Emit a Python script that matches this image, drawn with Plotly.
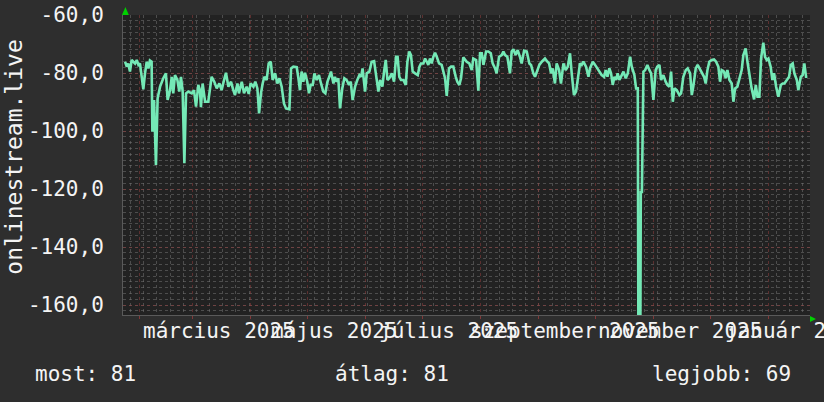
import pandas as pd
import plotly.graph_objects as go

# ---- data ----
start_date = "2025-01-23"
end_date = "2026-01-23"
day_offset = [
    1.1, 2.0, 2.8, 3.7, 4.6, 6.4, 7.3, 8.2, 9.0, 9.9, 10.8, 11.7, 12.6, 13.5, 14.3, 15.2,
    15.6, 16.5, 17.5, 18.4, 19.7, 21.4, 22.8, 23.7, 25.0, 25.9, 26.7, 27.6, 28.9, 29.9,
    30.8, 31.7, 32.6, 33.5, 34.7, 36.5, 37.7, 38.8, 40.0, 40.9, 41.4, 42.3, 43.6, 45.3,
    47.1, 48.5, 49.8, 51.2, 52.4, 53.7, 54.7, 56.0, 57.4, 58.6, 59.5, 60.8, 61.6, 63.1,
    64.3, 65.7, 66.8, 67.8, 69.3, 70.3, 71.4, 72.3, 73.3, 74.2, 75.1, 76.3, 77.4, 78.5,
    79.5, 80.8, 82.0, 83.1, 84.3, 85.5, 86.6, 88.4, 89.3, 90.5, 92.3, 93.2, 94.0, 94.9,
    95.8, 96.7, 97.9, 98.8, 99.7, 100.8, 101.7, 102.9, 104.1, 105.2, 106.4, 107.5, 108.6,
    109.6, 110.5, 111.8, 112.6, 113.5, 114.4, 115.3, 116.5, 117.6, 118.8, 120.1, 121.0,
    122.0, 123.3, 124.5, 125.6, 126.5, 127.3, 128.6, 129.5, 130.9, 132.1, 133.4, 134.4,
    135.7, 136.6, 137.8, 138.7, 139.6, 140.5, 141.5, 142.8, 144.0, 145.1, 145.9, 146.8,
    147.7, 149.0, 150.2, 151.1, 152.1, 153.0, 153.9, 155.2, 156.6, 157.5, 158.3, 159.6,
    160.5, 161.4, 162.2, 163.1, 164.0, 164.9, 165.8, 166.7, 167.9, 169.3, 170.2, 171.1,
    172.0, 173.2, 174.3, 175.5, 176.8, 177.6, 178.7, 179.6, 180.8, 182.6, 184.0,
    185.3, 186.1, 187.6, 188.8, 189.7, 190.6, 191.5, 192.9, 194.1, 195.4, 196.4, 197.7,
    198.5, 199.8, 201.2, 202.1, 203.0, 204.2, 205.6, 206.5, 207.4, 208.6, 209.7, 210.9,
    211.8, 213.1, 214.5, 215.9, 216.8, 218.0, 218.9, 220.2, 221.2, 222.5, 224.2, 225.5,
    226.4, 227.4, 228.3, 229.5, 230.4, 231.7, 232.7, 234.0, 235.2, 236.3, 237.5, 238.4,
    239.6, 240.7, 241.6, 242.8, 243.7, 244.6, 246.0, 247.3, 248.1, 249.6, 250.8, 252.0,
    253.1, 254.3, 255.6, 256.5, 257.4, 258.4, 259.3, 260.2, 261.1, 262.0, 262.8, 263.7,
    265.0, 265.9, 267.1, 268.2, 269.4, 270.3, 271.7, 272.6, 273.5, 273.8, 274.9, 275.1,
    275.7, 276.5, 277.4, 278.6, 279.7, 280.6, 281.8, 283.0, 283.9, 285.0, 285.9, 287.1,
    288.3, 289.2, 290.3, 291.2, 292.1, 293.0, 294.2, 295.6, 296.5, 297.7, 299.0, 300.0,
    301.3, 302.2, 303.0, 304.3, 305.3, 306.6, 307.8, 308.7, 309.6, 310.5, 311.5, 312.8,
    314.0, 315.1, 316.3, 317.2, 318.1, 319.3, 320.2, 321.1, 322.2, 323.4, 324.3, 325.2,
    326.4, 327.8, 328.7, 329.6, 330.8, 331.9, 332.8, 334.0, 335.3, 336.2, 337.1, 338.1,
    339.0, 340.2, 341.1, 342.0, 342.9, 344.1, 345.0, 345.9, 347.0, 348.2, 349.5, 350.5,
    351.4, 352.6, 353.9, 354.8, 355.8, 356.7, 358.0, 358.8, 360.1, 361.1, 362.0, 362.9,
    363.6,
]
signal = [
    -76.1, -77.8, -76.7, -79.5, -75.5, -76.7, -75.5, -77.2, -76.7, -81.3, -85.6, -80.1,
    -76.1, -78.4, -75.7, -76.1,
    -100.2, -89.3, -111.7, -88.7, -84.7, -81.8, -80.1, -89.3, -85.9, -81.3, -87.0, -80.7,
    -82.4, -86.4, -81.3, -86.4, -111.1, -87.0, -86.4, -87.0, -85.9, -91.6, -84.1, -85.9,
    -91.8, -83.6, -89.9, -89.9, -81.3, -83.0, -85.3, -83.6, -85.9, -82.4, -79.9, -84.7,
    -83.0, -85.9, -87.6, -83.6, -87.0, -83.0, -87.0, -84.7, -87.2, -83.6, -84.7, -83.0,
    -85.3, -93.9, -87.0, -83.6, -81.3, -82.4, -76.7, -76.1, -82.4, -80.1, -83.6, -81.8,
    -84.7, -90.5, -92.2, -92.5, -78.4, -77.8, -78.0, -81.8, -85.9, -79.5, -83.0, -79.9,
    -83.0, -87.0, -84.1, -84.1, -80.1, -82.4, -80.7, -83.6, -86.4, -87.0, -83.0, -81.3,
    -79.5, -83.6, -81.3, -83.0, -81.8, -92.2, -85.3, -81.8, -82.4, -84.1, -83.0, -89.3,
    -84.7, -82.4, -80.7, -81.3, -78.4, -86.4, -80.1, -79.5, -76.1, -75.9, -81.3, -86.4,
    -82.4, -84.7, -79.5, -75.5, -82.4, -81.8, -80.1, -83.0, -74.4, -74.4, -81.3, -82.4,
    -82.4, -84.1, -76.1, -72.6, -73.8, -79.5, -80.1, -80.7, -77.8, -76.7, -76.7, -75.0,
    -76.1, -77.2, -75.0, -76.7, -74.4, -73.0, -74.4, -76.7, -77.2, -80.1, -81.8, -87.9,
    -78.4, -77.8, -77.8, -81.3, -83.0, -84.1, -81.8, -74.6, -76.1, -76.7,
    -79.0, -75.0, -75.5, -86.1, -73.2, -73.2, -77.2, -72.6, -72.6, -73.2, -76.7, -78.4,
    -80.1, -74.4, -73.8, -72.6, -73.8, -74.4, -80.1, -72.6, -71.8, -73.8, -72.1, -74.4,
    -76.7, -72.3, -72.6, -76.7, -77.2, -80.1, -81.3, -79.0, -77.2, -76.1, -75.0, -76.1,
    -76.7, -80.1, -78.4, -83.6, -76.7, -79.0, -83.6, -76.7, -79.0, -77.8, -73.2, -80.1,
    -87.6, -86.4, -81.3, -76.7, -77.2, -76.1, -77.8, -81.3, -78.4, -76.1, -77.2, -78.4,
    -79.5, -80.7, -81.3, -79.0, -81.3, -78.4, -80.1, -84.1, -81.3, -82.4, -80.1, -82.4,
    -80.7, -79.5, -81.8, -80.1, -74.4, -77.8, -80.7, -85.3, -85.3, -163.0, -163.0, -121.0,
    -121.0, -79.5, -79.0, -77.2, -79.0, -80.1, -89.3, -79.0, -77.8, -77.2, -82.4, -80.7,
    -83.0, -84.1, -84.7, -79.5, -89.9, -85.3, -85.9, -87.6, -87.0, -81.3, -79.0, -78.4,
    -80.1, -87.6, -84.7, -78.4, -77.2, -79.0, -80.1, -81.3, -83.6, -79.0, -76.1, -75.5,
    -75.3, -76.1, -77.8, -83.0, -79.0, -79.5, -81.8, -79.0, -82.4, -83.6, -89.9, -85.3,
    -84.7, -81.3, -79.0, -73.8, -71.5, -76.7, -80.7, -85.3, -89.1, -84.1, -88.2, -88.2,
    -75.0, -69.5, -74.4, -75.5, -75.0, -77.8, -82.4, -80.1, -84.7, -88.2, -84.1, -83.6,
    -83.6, -82.4, -81.3, -77.2, -76.7, -80.1, -82.4, -85.9, -81.3, -80.7, -76.7, -81.3,
    -81.3,
]
y_tick_values = [-60, -80, -100, -120, -140, -160]
y_tick_labels = ["-60,0", "-80,0", "-100,0", "-120,0", "-140,0", "-160,0"]
month_starts = ["2025-02-01", "2025-03-01", "2025-04-01", "2025-05-01", "2025-06-01",
                "2025-07-01", "2025-08-01", "2025-09-01", "2025-10-01", "2025-11-01",
                "2025-12-01", "2026-01-01"]
x_label_dates = ["2025-03-15", "2025-05-15", "2025-07-15", "2025-09-15", "2025-11-15", "2026-01-15"]
x_label_texts = ["március 2025", "május 2025", "július 2025", "szeptember 2025",
                 "november 2025", "január 2026"]
series_name = "onlinestream.live"
summary = ["most: 81", "átlag: 81", "legjobb: 69"]

base = pd.Timestamp(start_date)
x_dates = base + pd.to_timedelta(day_offset, unit="D")

FONT = "DejaVu Sans Mono"
TXT = "#f4f4f4"
MAJOR = "rgba(140,60,60,0.55)"
MINOR = "rgba(120,120,120,0.5)"

fig = go.Figure()
fig.add_trace(go.Scatter(
    x=x_dates, y=signal, mode="lines",
    line=dict(color="#74e9b6", width=2.6),
    hoverinfo="skip", showlegend=False,
))

fig.update_layout(
    width=824, height=402,
    margin=dict(l=123, r=14, t=15, b=87),
    paper_bgcolor="#2e2e2e",
    plot_bgcolor="#222222",
    font=dict(family=FONT, color=TXT, size=21),
    showlegend=False,
    xaxis=dict(
        type="date", automargin=False,
        range=[start_date, end_date],
        tickmode="array", tickvals=month_starts, ticktext=[""] * len(month_starts),
        showticklabels=False,
        showgrid=True, gridcolor=MAJOR, griddash="dot", gridwidth=1,
        ticks="outside", ticklen=3, tickcolor="rgba(150,60,60,0.8)",
        minor=dict(dtick=7 * 24 * 3600 * 1000, tick0="2025-12-29", showgrid=True,
                   gridcolor=MINOR, griddash="dot", gridwidth=1),
        showline=True, linecolor="#5a5a5a", linewidth=1,
        zeroline=False, fixedrange=True,
    ),
    yaxis=dict(
        automargin=False,
        range=[-163.4, -60],
        tickmode="array", tickvals=y_tick_values, ticktext=y_tick_labels,
        tickfont=dict(family=FONT, size=21, color=TXT),
        ticklabelstandoff=14,
        showgrid=True, gridcolor=MAJOR, griddash="dot", gridwidth=1,
        minor=dict(dtick=2, showgrid=True, gridcolor=MINOR, griddash="dot", gridwidth=1),
        showline=True, linecolor="#5a5a5a", linewidth=1,
        zeroline=False, fixedrange=True,
    ),
)

annotations = []
for d, t in zip(x_label_dates, x_label_texts):
    annotations.append(dict(x=d, y=-0.053, xref="x", yref="paper", text=t,
                            showarrow=False, xanchor="center", yanchor="middle",
                            font=dict(family=FONT, size=21, color=TXT)))
annotations.append(dict(x=-0.159, y=0.527, xref="paper", yref="paper", text=series_name,
                        textangle=-90, showarrow=False, xanchor="center", yanchor="middle",
                        font=dict(family=FONT, size=23, color=TXT)))
for xp, t in zip([-0.131, 0.306, 0.767], summary):
    annotations.append(dict(x=xp, y=-0.197, xref="paper", yref="paper", text=t,
                            showarrow=False, xanchor="left", yanchor="middle",
                            font=dict(family=FONT, size=21, color=TXT)))
fig.update_layout(annotations=annotations)

# small green axis arrows
fig.add_shape(type="path", xref="paper", yref="paper",
              path="M -0.0015 1.0 L 0.0085 1.0 L 0.0035 1.027 Z",
              fillcolor="#00d000", line=dict(width=0))
fig.add_shape(type="path", xref="paper", yref="paper",
              path="M 1.0 -0.0033 L 1.0 -0.0233 L 1.0087 -0.0133 Z",
              fillcolor="#00d000", line=dict(width=0))

fig.write_html(
    "out.html",
    config={"displayModeBar": False, "staticPlot": True},
    post_script="document.body.style.margin='0';document.body.style.background='#2e2e2e';",
)
